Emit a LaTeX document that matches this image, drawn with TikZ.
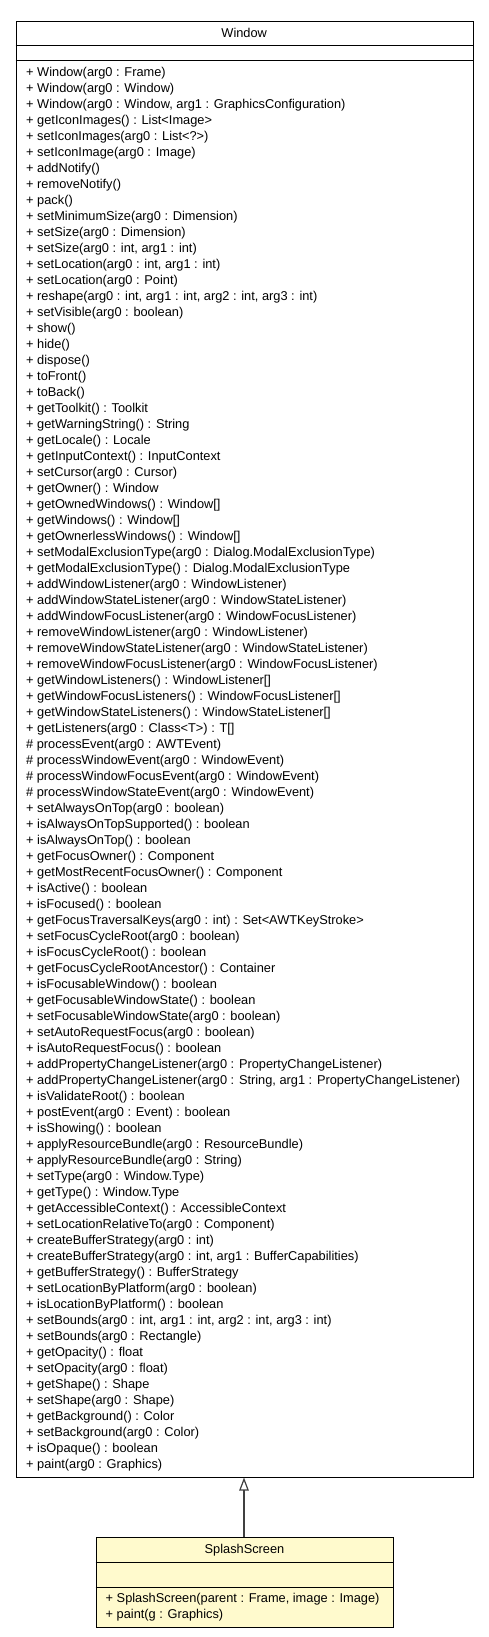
\documentclass[tikz,border=0pt]{standalone}
\usepackage{fontspec}
\setmainfont{Liberation Sans}
\usetikzlibrary{arrows.meta}
\definecolor{lemon}{RGB}{255,250,205}
\definecolor{edgegray}{RGB}{64,64,64}
\begin{document}
\begin{tikzpicture}[x=1pt,y=-1pt,
  umlbox/.style={draw=black, line width=1pt, inner sep=0pt, anchor=north west},
  sepline/.style={draw=black, line width=1pt},
  titletext/.style={inner sep=0pt, anchor=base, font=\fontsize{12.8}{16}\selectfont},
  methodtext/.style={inner sep=0pt, anchor=north west, font=\fontsize{12.8}{16}\selectfont},
  inherit/.style={draw=edgegray, line width=1.2pt, -{Triangle[length=13pt, width=9.5pt, fill=white]}}]
\useasboundingbox (0,0) rectangle (488,1637);
% Window class
\node[umlbox, minimum width=457pt, minimum height=1455.5pt] (win) at (15.7,21) {};
\draw[sepline] (15.7,46) -- (472.7,46);
\draw[sepline] (15.7,61) -- (472.7,61);
\node[titletext] (wintitle) at (244.2,38) {Window};
\node[methodtext] (winmethods) at (26,64.8) {\begin{tabular}{@{}l@{}}
+ Window(arg0 : Frame)\\
+ Window(arg0 : Window)\\
+ Window(arg0 : Window, arg1 : GraphicsConfiguration)\\
+ getIconImages() : List<Image>\\
+ setIconImages(arg0 : List<?>)\\
+ setIconImage(arg0 : Image)\\
+ addNotify()\\
+ removeNotify()\\
+ pack()\\
+ setMinimumSize(arg0 : Dimension)\\
+ setSize(arg0 : Dimension)\\
+ setSize(arg0 : int, arg1 : int)\\
+ setLocation(arg0 : int, arg1 : int)\\
+ setLocation(arg0 : Point)\\
+ reshape(arg0 : int, arg1 : int, arg2 : int, arg3 : int)\\
+ setVisible(arg0 : boolean)\\
+ show()\\
+ hide()\\
+ dispose()\\
+ toFront()\\
+ toBack()\\
+ getToolkit() : Toolkit\\
+ getWarningString() : String\\
+ getLocale() : Locale\\
+ getInputContext() : InputContext\\
+ setCursor(arg0 : Cursor)\\
+ getOwner() : Window\\
+ getOwnedWindows() : Window[]\\
+ getWindows() : Window[]\\
+ getOwnerlessWindows() : Window[]\\
+ setModalExclusionType(arg0 : Dialog.ModalExclusionType)\\
+ getModalExclusionType() : Dialog.ModalExclusionType\\
+ addWindowListener(arg0 : WindowListener)\\
+ addWindowStateListener(arg0 : WindowStateListener)\\
+ addWindowFocusListener(arg0 : WindowFocusListener)\\
+ removeWindowListener(arg0 : WindowListener)\\
+ removeWindowStateListener(arg0 : WindowStateListener)\\
+ removeWindowFocusListener(arg0 : WindowFocusListener)\\
+ getWindowListeners() : WindowListener[]\\
+ getWindowFocusListeners() : WindowFocusListener[]\\
+ getWindowStateListeners() : WindowStateListener[]\\
+ getListeners(arg0 : Class<T>) : T[]\\
\# processEvent(arg0 : AWTEvent)\\
\# processWindowEvent(arg0 : WindowEvent)\\
\# processWindowFocusEvent(arg0 : WindowEvent)\\
\# processWindowStateEvent(arg0 : WindowEvent)\\
+ setAlwaysOnTop(arg0 : boolean)\\
+ isAlwaysOnTopSupported() : boolean\\
+ isAlwaysOnTop() : boolean\\
+ getFocusOwner() : Component\\
+ getMostRecentFocusOwner() : Component\\
+ isActive() : boolean\\
+ isFocused() : boolean\\
+ getFocusTraversalKeys(arg0 : int) : Set<AWTKeyStroke>\\
+ setFocusCycleRoot(arg0 : boolean)\\
+ isFocusCycleRoot() : boolean\\
+ getFocusCycleRootAncestor() : Container\\
+ isFocusableWindow() : boolean\\
+ getFocusableWindowState() : boolean\\
+ setFocusableWindowState(arg0 : boolean)\\
+ setAutoRequestFocus(arg0 : boolean)\\
+ isAutoRequestFocus() : boolean\\
+ addPropertyChangeListener(arg0 : PropertyChangeListener)\\
+ addPropertyChangeListener(arg0 : String, arg1 : PropertyChangeListener)\\
+ isValidateRoot() : boolean\\
+ postEvent(arg0 : Event) : boolean\\
+ isShowing() : boolean\\
+ applyResourceBundle(arg0 : ResourceBundle)\\
+ applyResourceBundle(arg0 : String)\\
+ setType(arg0 : Window.Type)\\
+ getType() : Window.Type\\
+ getAccessibleContext() : AccessibleContext\\
+ setLocationRelativeTo(arg0 : Component)\\
+ createBufferStrategy(arg0 : int)\\
+ createBufferStrategy(arg0 : int, arg1 : BufferCapabilities)\\
+ getBufferStrategy() : BufferStrategy\\
+ setLocationByPlatform(arg0 : boolean)\\
+ isLocationByPlatform() : boolean\\
+ setBounds(arg0 : int, arg1 : int, arg2 : int, arg3 : int)\\
+ setBounds(arg0 : Rectangle)\\
+ getOpacity() : float\\
+ setOpacity(arg0 : float)\\
+ getShape() : Shape\\
+ setShape(arg0 : Shape)\\
+ getBackground() : Color\\
+ setBackground(arg0 : Color)\\
+ isOpaque() : boolean\\
+ paint(arg0 : Graphics)
\end{tabular}};
% SplashScreen class
\node[umlbox, fill=lemon, minimum width=297.6pt, minimum height=90.5pt] (splash) at (95.7,1536.5) {};
\draw[sepline] (95.7,1562.5) -- (393.3,1562.5);
\draw[sepline] (95.7,1587) -- (393.3,1587);
\node[titletext] (splashtitle) at (244.5,1553.6) {SplashScreen};
\node[methodtext] (splashmethods) at (105.5,1590.8) {\begin{tabular}{@{}l@{}}
+ SplashScreen(parent : Frame, image : Image)\\
+ paint(g : Graphics)
\end{tabular}};
% generalization
\draw[inherit] (splash.north -| 244,0) -- (win.south -| 244,0);
\end{tikzpicture}
\end{document}
